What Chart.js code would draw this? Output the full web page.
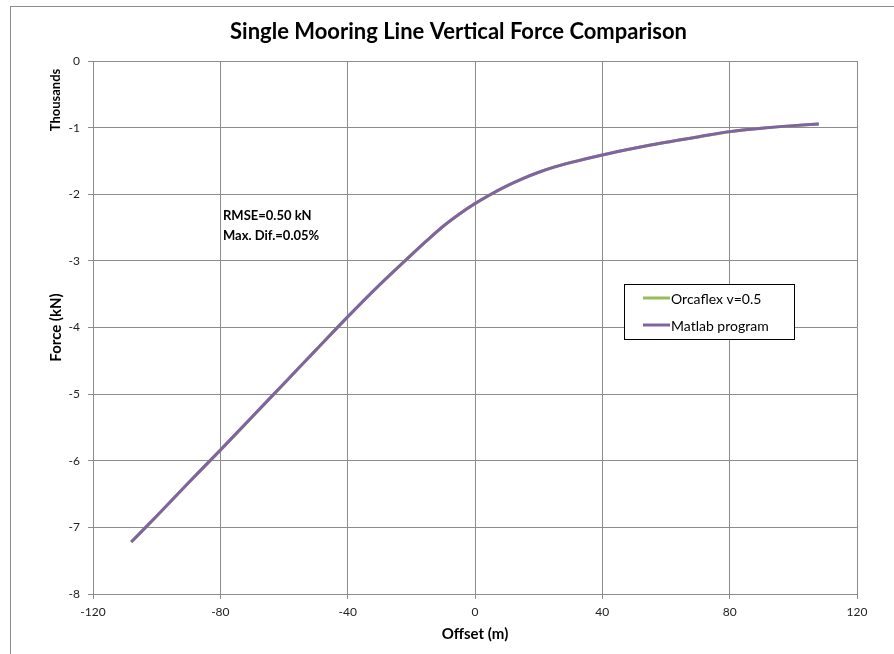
<!DOCTYPE html>
<html>
<head>
<meta charset="utf-8">
<script src="https://cdn.jsdelivr.net/npm/chart.js@4/dist/chart.umd.min.js"></script>
<style>
    html, body { margin: 0; padding: 0; background: #fff; overflow: hidden; }
    #frame {
        position: absolute; left: 10px; top: 6px;
        width: 895px; height: 660px;
        border-left: 1px solid #8c8c8c; border-top: 1px solid #8c8c8c;
    }
    #chart { display: block; }
</style>
</head>
<body>
<div id="frame"><canvas id="chart" width="895" height="654"></canvas></div>
<script>
// Offset (m) and vertical force (kN)
const offsets = [-108, -100, -90, -80, -70, -60, -50, -40, -30, -20, -15, -10, -5, 0, 5, 10, 15, 20, 25, 30, 40, 50, 60, 70, 80, 90, 100, 108];
const orcaflexForce = [-7222, -6832, -6331, -5841, -5343, -4842, -4338, -3841, -3362, -2911, -2691, -2481, -2299, -2141, -2001, -1876, -1766, -1671, -1591, -1524, -1410, -1309, -1221, -1140, -1061, -1009, -970, -944];
const matlabForce   = [-7220, -6830, -6330, -5840, -5340, -4840, -4340, -3840, -3360, -2910, -2690, -2480, -2300, -2140, -2000, -1875, -1765, -1670, -1590, -1525, -1410, -1310, -1220, -1140, -1060, -1010, -970, -945];
const seriesNames = ["Orcaflex v=0.5", "Matlab program"];
const seriesColors = ["#9bbb59", "#8064a2"];
const notes = ["RMSE=0.50 kN", "Max. Dif.=0.05%"];

const FONT = "Lato, Carlito, 'Open Sans', sans-serif";
const GRID = "#8c8c8c";

function toPoints(ys) {
    return offsets.map((x, i) => ({ x: x, y: ys[i] }));
}

// titles, note and legend drawn in the chart's own canvas
const decorations = {
    id: 'decorations',
    afterDraw(chart) {
        const ctx = chart.ctx;
        const area = chart.chartArea;
        ctx.save();
        ctx.fillStyle = '#000';

        // chart title
        ctx.font = "bold 22px " + FONT;
        ctx.textAlign = 'center';
        ctx.textBaseline = 'middle';
        ctx.fillText("Single Mooring Line Vertical Force Comparison", chart.width / 2, 25);

        // x axis title
        ctx.font = "bold 15px " + FONT;
        ctx.fillText("Offset (m)", (area.left + area.right) / 2, 627);

        // y axis titles
        ctx.save();
        ctx.translate(45, (area.top + area.bottom) / 2);
        ctx.rotate(-Math.PI / 2);
        ctx.fillText("Force (kN)", 0, 0);
        ctx.restore();
        ctx.save();
        ctx.font = "bold 13px " + FONT;
        ctx.translate(45, 93);
        ctx.rotate(-Math.PI / 2);
        ctx.fillText("Thousands", 0, 0);
        ctx.restore();

        // RMSE note
        ctx.font = "bold 13px " + FONT;
        ctx.textAlign = 'left';
        ctx.textBaseline = 'alphabetic';
        ctx.fillText(notes[0], 212, 213);
        ctx.fillText(notes[1], 212, 233);

        // legend box
        ctx.fillStyle = '#fff';
        ctx.fillRect(613, 277, 170, 55);
        ctx.strokeStyle = '#000';
        ctx.lineWidth = 1;
        ctx.strokeRect(613.5, 277.5, 170, 55);
        ctx.font = "14px " + FONT;
        ctx.textBaseline = 'middle';
        seriesNames.forEach((name, i) => {
            const y = 291 + i * 27;
            ctx.strokeStyle = seriesColors[i];
            ctx.lineWidth = 3;
            ctx.beginPath();
            ctx.moveTo(632, y);
            ctx.lineTo(659, y);
            ctx.stroke();
            ctx.fillStyle = '#000';
            ctx.fillText(name, 660, y + 1);
        });
        ctx.restore();
    }
};

new Chart(document.getElementById('chart').getContext('2d'), {
    type: 'line',
    data: {
        datasets: [
            {
                label: seriesNames[0],
                data: toPoints(orcaflexForce),
                borderColor: seriesColors[0],
                borderWidth: 3,
                pointRadius: 0,
                cubicInterpolationMode: 'monotone',
                order: 2
            },
            {
                label: seriesNames[1],
                data: toPoints(matlabForce),
                borderColor: seriesColors[1],
                borderWidth: 3,
                pointRadius: 0,
                cubicInterpolationMode: 'monotone',
                order: 1
            }
        ]
    },
    options: {
        responsive: false,
        animation: false,
        layout: { padding: { left: 0, top: 54, right: 49, bottom: 0 } },
        plugins: {
            legend: { display: false },
            title: { display: false },
            tooltip: { enabled: false }
        },
        scales: {
            x: {
                type: 'linear',
                min: -120,
                max: 120,
                afterFit: (s) => { s.height = 67; },
                ticks: { stepSize: 40, color: '#222', padding: 6, maxRotation: 0, font: { family: FONT, size: 12 } },
                grid: { color: GRID, lineWidth: 1, tickLength: 5 },
                border: { color: GRID }
            },
            y: {
                min: -8000,
                max: 0,
                afterFit: (s) => { s.width = 82; },
                ticks: {
                    stepSize: 1000,
                    color: '#222',
                    padding: 8,
                    font: { family: FONT, size: 12 },
                    callback: (v) => v / 1000
                },
                grid: { color: GRID, lineWidth: 1, tickLength: 5 },
                border: { color: GRID }
            }
        }
    },
    plugins: [decorations]
});
</script>
</body>
</html>
